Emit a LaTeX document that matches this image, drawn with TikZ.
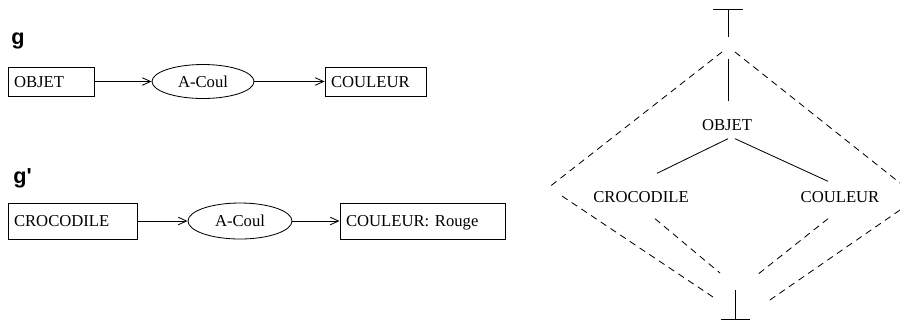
\documentclass[tikz,border=0pt]{standalone}
\usepackage{fontspec}
\setmainfont{Liberation Serif}
\newfontfamily\grfont{Liberation Sans}
\usetikzlibrary{shapes,arrows,arrows.meta,positioning,calc}
\tikzset{
	box/.style = {draw, rectangle, inner xsep=3.6pt, inner ysep=0pt, align=left, minimum height=17.4pt, text depth=-1pt},
	rel/.style = {draw, ellipse, inner sep=0pt},
	grname/.style = {font=\grfont\bfseries\fontsize{13}{15}\selectfont, inner sep=0pt, anchor=base west},
	conc/.style = {inner sep=1pt},
	dashline/.style = {dash pattern=on 4pt off 3pt}
}

\begin{document}
\begin{tikzpicture}[x=0.6pt,y=-0.6pt,line width=0.5pt,>={Straight Barb[length=5pt,width=4.5pt]}]
		\useasboundingbox (0,0) rectangle (900,324);
		% graphe g
		\node [grname] (g) at (11,44) {g};
		\node [box, text width=44.4pt] (objet) at (51,81.5) {OBJET};
		\node [rel, minimum width=61.2pt, minimum height=20.4pt] (acoul) at (203,81.5) {A-Coul};
		\node [box, text width=53.4pt] (couleur) at (375.5,81.5) {COULEUR};

		\draw [->] (objet) -- (acoul);
		\draw [->] (acoul) -- (couleur);

		% graphe g'
		\node [grname] (gp) at (13,183) {g'};
		\node [box, text width=70.2pt, minimum height=21.6pt] (croco) at (72.5,221) {CROCODILE};
		\node [rel, minimum width=62.4pt, minimum height=21.6pt] (acoulp) at (240,221) {A-Coul};
		\node [box, text width=91.8pt, minimum height=21.6pt] (rouge) at (422.5,221) {COULEUR: Rouge};

		\draw [->] (croco) -- (acoulp);
		\draw [->] (acoulp) -- (rouge);

		% treillis
		\node [conc] (objetT) at (727,125) {OBJET};
		\node [conc] (crocoT) at (641,197) {CROCODILE};
		\node [conc] (couleurT) at (840,197) {COULEUR};

		\coordinate (top) at (728,9);
		\coordinate (bot) at (735,319);
		\draw ($(top)+(-15,0)$) -- ($(top)+(15,0)$);
		\draw (top) -- ++(0,28);
		\draw ($(bot)+(-14,0)$) -- ($(bot)+(15,0)$);
		\draw (bot) -- ++(0,-29);

		\draw ($(objetT.north)+(1,-16)$) -- ++(0,-42);
		\draw ($(objetT.south)+(1,6)$) -- ($(crocoT.north)+(16,-16)$);
		\draw ($(objetT.south)+(8,6)$) -- ($(couleurT.north)+(-12,-8)$);

		\draw [dashline] ($(crocoT.south)+(14,14)$) -- (720,273);
		\draw [dashline] ($(couleurT.south)+(-12,14)$) -- (757,275);

		\draw [dashline] (722,52) -- (548,188);
		\draw [dashline] (735,52) -- (900,183);
		\draw [dashline] (562,196) -- (713,297);
		\draw [dashline] (900,210) -- (767,302);
\end{tikzpicture}
\end{document}
